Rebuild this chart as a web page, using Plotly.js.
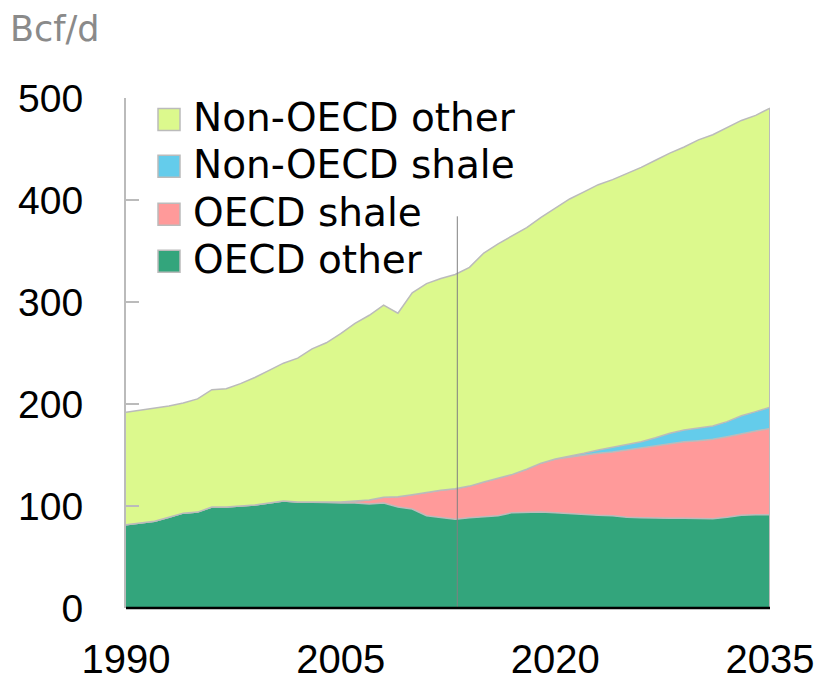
<!DOCTYPE html>
<html>
<head>
<meta charset="utf-8">
<script src="https://cdn.plot.ly/plotly-3.0.1.min.js"></script>
<style>
  html, body { margin: 0; padding: 0; background: #ffffff; }
  #chart { width: 823px; height: 680px; }
</style>
</head>
<body>
<div id="chart"></div>
<script>
// ---- Data (Bcf/d) ----
const years = [1990,1991,1992,1993,1994,1995,1996,1997,1998,1999,
               2000,2001,2002,2003,2004,2005,2006,2007,2008,2009,
               2010,2011,2012,2013,2014,2015,2016,2017,2018,2019,
               2020,2021,2022,2023,2024,2025,2026,2027,2028,2029,
               2030,2031,2032,2033,2034,2035];

const oecdOther = [81.5,83,85,89,93,94,99,99,100,101,
                   103,105,104,104,103.5,103,103,102,103,99,
                   97,90.5,88.5,87,88.5,89.5,90.5,93.5,94,94,
                   93.5,92.5,92,91,90.5,89,88.5,88,88,88,
                   88,87.5,89,91,91.5,91.5];

const oecdShale = [0,0,0,0,0,0,0,0,0,0,
                   0,0,0,0,0,1,2,4,5.5,10,
                   14,23,27,30,31,34,36.5,37.5,42,48,
                   52.5,55.5,57.7,60.7,62.5,66,68.5,71,73.4,75,
                   76,78,79,80,82,84.5];

const nonOecdShale = [0,0,0,0,0,0,0,0,0,0,
                      0,0,0,0,0,0,0,0,0,0,
                      0,0,0,0,0,0,0,0,0,0,
                      0,0.5,2,3.3,4.5,4.8,6,8,10,11.5,
                      12.8,13,14.7,17.5,19,20.8];

const nonOecdOther = [110.5,111,111,109,108,111,115,116,120,125,
                      130,135,141,150,156.5,165,174,181,188.5,180,
                      198,204.5,207.5,210,214.5,224.5,230,234,237,241,
                      246,252.5,256.3,260,262.5,266.2,269,272,274.6,277.5,
                      282.2,285.5,288.3,289.5,290.5,293.2];

const seriesNames = ["OECD other", "OECD shale", "Non-OECD shale", "Non-OECD other"];
const seriesColors = ["#33a57c", "#ff9a9a", "#64cceb", "#dcf98d"];
const legendOrder = ["Non-OECD other", "Non-OECD shale", "OECD shale", "OECD other"];

const yTicks = [0, 100, 200, 300, 400, 500];
const xTicks = [1990, 2005, 2020, 2035];
const yUnit = "Bcf/d";
const markerYear = 2013.15;
const markerTop = 384;

const seriesValues = [oecdOther, oecdShale, nonOecdShale, nonOecdOther];

const traces = seriesNames.map((name, i) => ({
  type: "scatter",
  mode: "lines",
  name: name,
  x: years,
  y: seriesValues[i],
  stackgroup: "one",
  fillcolor: seriesColors[i],
  line: { color: "#bbbbbb", width: 1.5, shape: "linear" },
  showlegend: false,
  hoverinfo: "x+y+name"
}));

// total at last year (for the right-hand edge of the stacked area)
const lastIdx = years.length - 1;
const lastTotal = seriesValues.reduce((s, arr) => s + arr[lastIdx], 0);

// manual legend (squares + labels)
const legendRowY = [0.958, 0.866, 0.772, 0.680];
const legendColorOf = {};
seriesNames.forEach((n, i) => { legendColorOf[n] = seriesColors[i]; });

const shapes = [
  { type: "line", xref: "x", yref: "y", x0: markerYear, x1: markerYear, y0: 0, y1: markerTop,
    line: { color: "#808080", width: 1 }, layer: "above" },
  { type: "line", xref: "x", yref: "y", x0: years[lastIdx], x1: years[lastIdx], y0: 0, y1: lastTotal,
    line: { color: "#bbbbbb", width: 2 }, layer: "above" },
  { type: "line", xref: "paper", yref: "paper", x0: 0, x1: 1, y0: 0, y1: 0,
    line: { color: "#000000", width: 2.5 }, layer: "above" }
];
const annotations = [];
legendOrder.forEach((n, k) => {
  shapes.push({
    type: "rect", xref: "paper", yref: "paper",
    xsizemode: "pixel", ysizemode: "pixel",
    xanchor: 0.0497, yanchor: legendRowY[k],
    x0: 0, x1: 22, y0: -11, y1: 11,
    fillcolor: legendColorOf[n],
    line: { color: "#bbbbbb", width: 1.5 },
    layer: "above"
  });
  annotations.push({
    xref: "paper", yref: "paper", x: 0.101, y: legendRowY[k] + 0.004,
    xanchor: "left", yanchor: "middle", showarrow: false,
    text: n,
    font: { family: "DejaVu Sans", size: 39, color: "#000000" }
  });
});

const layout = {
  width: 823, height: 680,
  margin: { l: 126, r: 53, t: 98, b: 72 },
  paper_bgcolor: "#ffffff",
  plot_bgcolor: "#ffffff",
  showlegend: false,
  title: {
    text: yUnit,
    xref: "container", yref: "container",
    x: 0.012, xanchor: "left",
    y: 0.957, yanchor: "middle",
    font: { family: "DejaVu Sans", size: 35, color: "#8a8a8a" }
  },
  xaxis: {
    range: [years[0], years[lastIdx]],
    tickvals: xTicks,
    ticktext: xTicks.map(String),
    ticks: "",
    showgrid: false,
    zeroline: false,
    showline: false,
    ticklabelstandoff: 24,
    tickfont: { family: "Liberation Sans, Arial, sans-serif", size: 40, color: "#000000" }
  },
  yaxis: {
    range: [0, 500],
    tickvals: yTicks,
    ticktext: yTicks.map(String),
    ticks: "inside",
    ticklen: 13,
    tickwidth: 2,
    tickcolor: "#bbbbbb",
    showgrid: false,
    zeroline: false,
    showline: true,
    linecolor: "#bbbbbb",
    linewidth: 2,
    ticklabelstandoff: 33,
    tickfont: { family: "Liberation Sans, Arial, sans-serif", size: 39, color: "#000000" }
  },
  shapes: shapes,
  annotations: annotations
};

Plotly.newPlot("chart", traces, layout, { displayModeBar: false, staticPlot: true });
</script>
</body>
</html>
